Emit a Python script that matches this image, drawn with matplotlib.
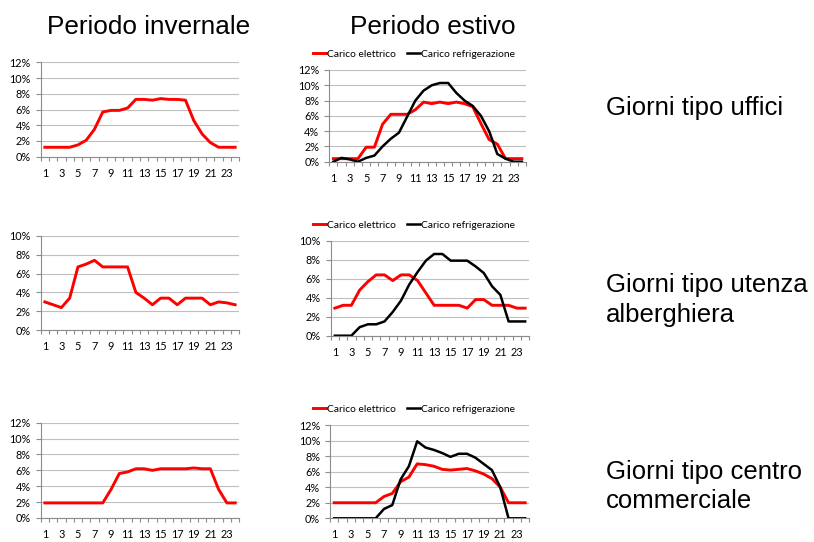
import matplotlib
matplotlib.use("Agg")
import matplotlib.pyplot as plt
from matplotlib.lines import Line2D
import numpy as np

hours = list(range(1, 25))
tick_labels = [str(h) for h in range(1, 25, 2)]

# Winter profiles (electric load only), % of daily total
winter_offices = [1.2, 1.2, 1.2, 1.2, 1.5, 2.1, 3.5, 5.7, 5.9, 5.9, 6.2, 7.3,
                  7.3, 7.2, 7.4, 7.3, 7.3, 7.2, 4.6, 2.9, 1.8, 1.2, 1.2, 1.2]
winter_hotel = [3.0, 2.7, 2.4, 3.4, 6.7, 7.0, 7.4, 6.7, 6.7, 6.7, 6.7, 4.0,
                3.4, 2.7, 3.4, 3.4, 2.7, 3.4, 3.4, 3.4, 2.7, 3.0, 2.9, 2.7]
winter_mall = [1.9, 1.9, 1.9, 1.9, 1.9, 1.9, 1.9, 1.9, 3.6, 5.6, 5.8, 6.2,
               6.2, 6.0, 6.2, 6.2, 6.2, 6.2, 6.3, 6.2, 6.2, 3.6, 1.9, 1.9]

# Summer profiles: electric load and refrigeration load
summer_offices_el = [0.4, 0.4, 0.4, 0.4, 1.9, 1.9, 4.9, 6.2, 6.2, 6.2, 6.8, 7.8,
                     7.6, 7.8, 7.6, 7.8, 7.6, 7.2, 5.0, 2.9, 2.3, 0.4, 0.4, 0.4]
summer_offices_fr = [0.0, 0.5, 0.3, 0.0, 0.5, 0.8, 2.0, 3.0, 3.8, 5.9, 8.0, 9.3,
                     10.0, 10.3, 10.3, 9.0, 8.0, 7.3, 6.0, 4.0, 1.0, 0.4, 0.0, 0.0]
summer_hotel_el = [2.9, 3.2, 3.2, 4.8, 5.7, 6.4, 6.4, 5.8, 6.4, 6.4, 5.8, 4.5,
                   3.2, 3.2, 3.2, 3.2, 2.9, 3.8, 3.8, 3.2, 3.2, 3.2, 2.9, 2.9]
summer_hotel_fr = [0.0, 0.0, 0.0, 0.9, 1.2, 1.2, 1.5, 2.5, 3.7, 5.4, 6.7, 7.9,
                   8.6, 8.6, 7.9, 7.9, 7.9, 7.3, 6.6, 5.2, 4.3, 1.5, 1.5, 1.5]
summer_mall_el = [2.0, 2.0, 2.0, 2.0, 2.0, 2.0, 2.8, 3.2, 4.7, 5.3, 7.0, 6.9,
                  6.7, 6.3, 6.2, 6.3, 6.4, 6.1, 5.7, 5.1, 4.0, 2.0, 2.0, 2.0]
summer_mall_fr = [0.0, 0.0, 0.0, 0.0, 0.0, 0.0, 1.2, 1.7, 5.0, 6.7, 9.9, 9.1,
                  8.8, 8.4, 7.9, 8.3, 8.3, 7.8, 7.0, 6.2, 4.0, 0.0, 0.0, 0.0]

column_titles = ["Periodo invernale", "Periodo estivo"]
row_labels = ["Giorni tipo uffici", "Giorni tipo utenza\nalberghiera",
              "Giorni tipo centro\ncommerciale"]
legend_labels = ["Carico elettrico", "Carico refrigerazione"]

RED = "#ff0000"
BLACK = "#000000"
GRID = "#bfbfbf"
AXC = "#8c8c8c"
TICK_FONT = "Lato"
TICK_SIZE = 7.8

W, H = 814, 542
fig = plt.figure(figsize=(W / 100, H / 100), dpi=100)


def px_axes(x0, y_top, x1, y_bot):
    return fig.add_axes([x0 / W, 1 - y_bot / H, (x1 - x0) / W, (y_bot - y_top) / H])


def style(ax, ymax):
    ax.set_xlim(0.5, 24.5)
    ax.set_ylim(0, ymax)
    yt = np.arange(0, ymax + 0.01, 2)
    ax.set_yticks(yt)
    ax.set_yticklabels([f"{int(v)}%" for v in yt], fontsize=TICK_SIZE, family=TICK_FONT)
    ax.set_xticks(range(1, 25, 2))
    ax.set_xticklabels(tick_labels, fontsize=TICK_SIZE, family=TICK_FONT)
    ax.set_xticks(np.arange(0.5, 25, 1), minor=True)
    ax.tick_params(axis="x", which="major", length=0, pad=8)
    ax.tick_params(axis="x", which="minor", length=3, color=AXC, width=0.8)
    ax.tick_params(axis="y", length=3.6, color=AXC, width=0.8, pad=3.5)
    for s in ("top", "right"):
        ax.spines[s].set_visible(False)
    for s in ("left", "bottom"):
        ax.spines[s].set_color(AXC)
        ax.spines[s].set_linewidth(0.8)
    ax.grid(axis="y", color=GRID, linewidth=0.8)
    ax.set_axisbelow(True)


# rows: (winter axes box, summer axes box, ymax, winter data, summer el, summer fr, legend y)
panels = [
    ((40.7, 62.5, 239.3, 156.7), (329.3, 70, 526, 161.7), 12,
     winter_offices, summer_offices_el, summer_offices_fr, 54.3),
    ((40.7, 235.7, 239.3, 330.3), (330.7, 240.7, 529.3, 335.7), 10,
     winter_hotel, summer_hotel_el, summer_hotel_fr, 225),
    ((40.7, 422.7, 239.3, 518), (330, 425, 529.3, 518.3), 12,
     winter_mall, summer_mall_el, summer_mall_fr, 409.3),
]

for wbox, sbox, ymax, w, sel, sfr, ly in panels:
    axw = px_axes(*wbox)
    style(axw, ymax)
    axw.plot(hours, w, color=RED, linewidth=2.1, solid_joinstyle="round")

    axs = px_axes(*sbox)
    style(axs, ymax)
    axs.plot(hours, sel, color=RED, linewidth=2.1, solid_joinstyle="round")
    axs.plot(hours, sfr, color=BLACK, linewidth=1.8, solid_joinstyle="round")

    handles = [Line2D([], [], color=RED, linewidth=2.1),
               Line2D([], [], color=BLACK, linewidth=1.8)]
    fig.legend(handles, legend_labels, loc="center", ncol=2,
               bbox_to_anchor=(414 / W, 1 - ly / H), frameon=False,
               prop={"family": TICK_FONT, "size": 7.4}, handlelength=1.3,
               handletextpad=0.05, columnspacing=1.1, borderpad=0)

# column headings
fig.text(148.6 / W, 1 - 33.5 / H, column_titles[0], ha="center", va="baseline",
         fontsize=18.8, family="Liberation Sans")
fig.text(433 / W, 1 - 33.5 / H, column_titles[1], ha="center", va="baseline",
         fontsize=18.8, family="Liberation Sans")

# row descriptions (baseline of the last line)
row_baselines = [115, 321.7, 508.3]
for lab, y in zip(row_labels, row_baselines):
    fig.text(606 / W, 1 - y / H, lab, ha="left", va="baseline",
             fontsize=18.5, family="Liberation Sans", linespacing=1.3)

fig.savefig("out.png", dpi=100)
